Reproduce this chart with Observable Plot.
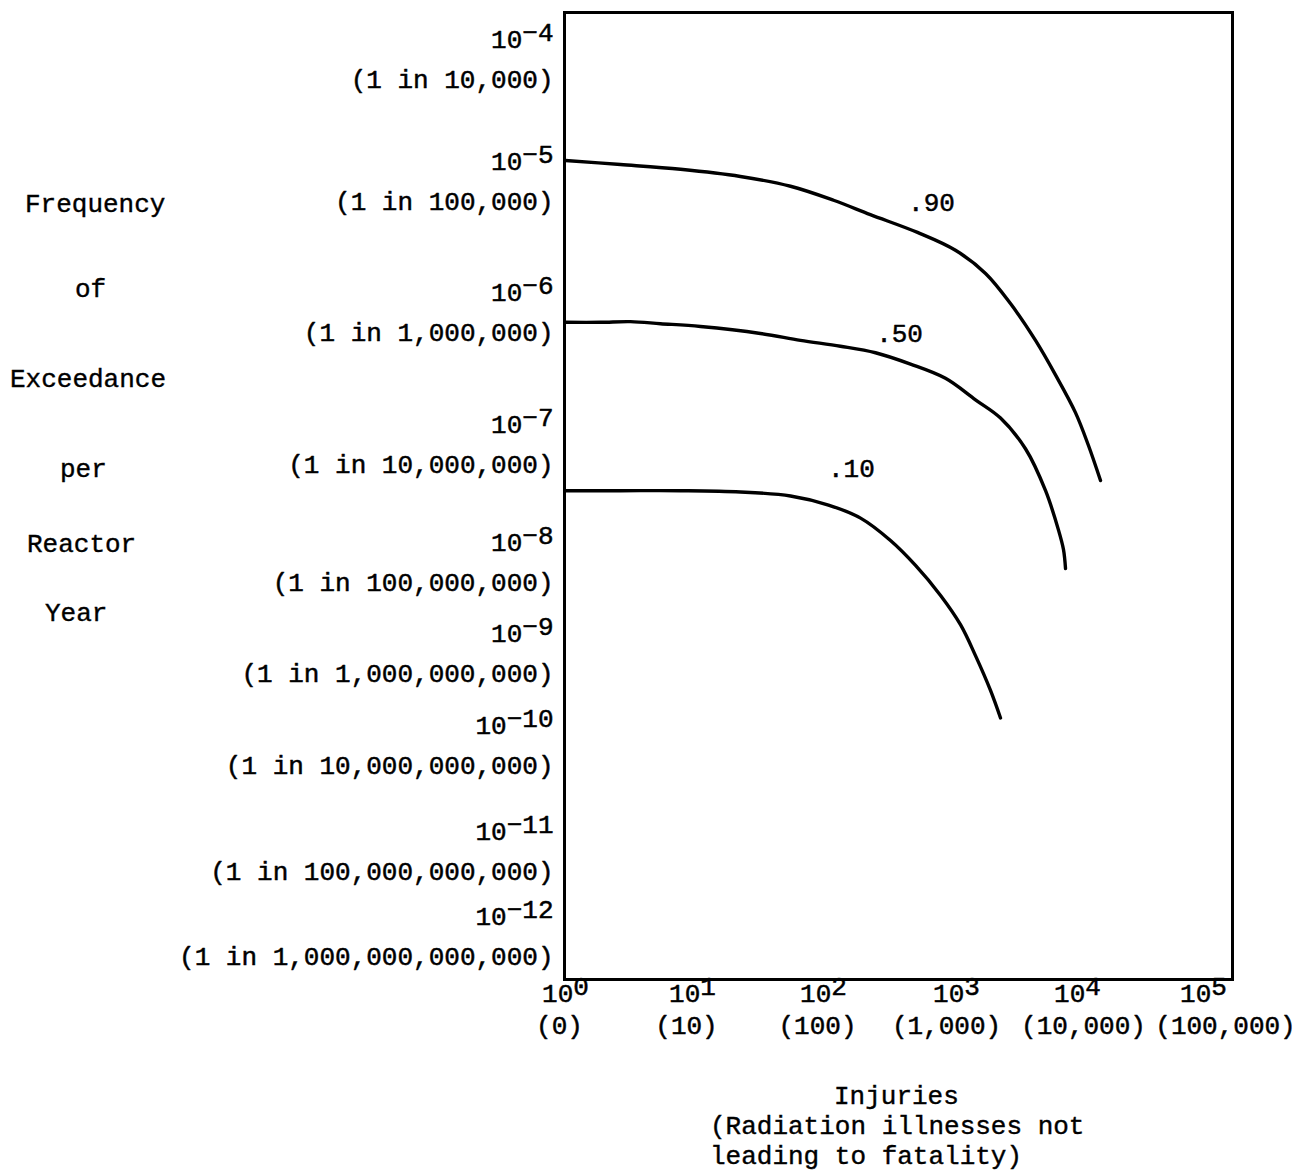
<!DOCTYPE html>
<html><head><meta charset="utf-8">
<script src="https://cdn.jsdelivr.net/npm/d3@7"></script>
<script src="https://cdn.jsdelivr.net/npm/@observablehq/plot@0.6"></script>
<style>
body{margin:0;background:#fff;}
#wrap{position:relative;width:1308px;height:1173px;font-family:"Liberation Mono",monospace;font-size:26px;color:#000;overflow:hidden;}
.w{position:absolute;line-height:1;white-space:pre;-webkit-text-stroke:0.4px #000;}
</style></head><body><div id="wrap">
<div class="w" style="left:25px;top:192px">Frequency</div>
<div class="w" style="left:75px;top:277px">of</div>
<div class="w" style="left:10px;top:367px">Exceedance</div>
<div class="w" style="left:60px;top:457px">per</div>
<div class="w" style="left:27px;top:532px">Reactor</div>
<div class="w" style="left:45px;top:601px">Year</div>
<div class="w" style="left:834px;top:1084px">Injuries</div>
<div class="w" style="left:710px;top:1114px">(Radiation illnesses not</div>
<div class="w" style="left:710px;top:1144px">leading to fatality)</div>
</div>
<script>
// y axis: decades of frequency and their "1 in N" readings
const yExponents = [-4, -5, -6, -7, -8, -9, -10, -11, -12];
const yTickLabels = ["(1 in 10,000)", "(1 in 100,000)", "(1 in 1,000,000)", "(1 in 10,000,000)",
  "(1 in 100,000,000)", "(1 in 1,000,000,000)", "(1 in 10,000,000,000)",
  "(1 in 100,000,000,000)", "(1 in 1,000,000,000,000)"];
// x axis: decades of injuries
const xExponents = [0, 1, 2, 3, 4, 5];
const xTickLabels = ["(0)", "(10)", "(100)", "(1,000)", "(10,000)", "(100,000)"];

// curves (injuries, frequency of exceedance per reactor year)
const injuries90 = [1, 2.71, 8.05, 23.2, 56, 119, 225, 509, 982, 1738, 2793, 4498, 6577, 9620, 12220, 15230];
const freq90 = [1.49e-5, 1.38e-5, 1.26e-5, 1.10e-5, 9.2e-6, 7.2e-6, 5.6e-6, 4.1e-6, 3.0e-6, 2.0e-6, 1.18e-6, 6.2e-7, 3.4e-7, 1.76e-7, 9.9e-8, 5.0e-8];
const injuries50 = [1, 1.89, 3.25, 5.6, 11.5, 33, 66.7, 134, 246, 451, 826, 1435, 2311, 3716, 5445, 6967, 7658, 7962];
const freq50 = [8.5e-7, 8.5e-7, 8.6e-7, 8.3e-7, 7.9e-7, 7.0e-7, 6.2e-7, 5.6e-7, 5.0e-7, 4.1e-7, 3.2e-7, 2.2e-7, 1.6e-7, 9.3e-8, 4.1e-8, 1.9e-8, 1.3e-8, 8.7e-9];
const injuries10 = [1, 2.71, 8.05, 23.2, 56, 109, 190, 319, 492, 759, 1079, 1435, 1910, 2311];
const freq10 = [4.1e-8, 4.1e-8, 4.1e-8, 4.0e-8, 3.7e-8, 3.1e-8, 2.4e-8, 1.55e-8, 9.4e-9, 4.4e-9, 2.1e-9, 9.6e-10, 4.0e-10, 2.0e-10];

const curveNames = [".90", ".50", ".10"];
const labelInjuries = [649, 373, 162];
const labelFreq = [6.9e-6, 7.0e-7, 6.3e-8];

const series = [
  ...injuries90.map((x, i) => ({x, y: freq90[i], s: ".90"})),
  ...injuries50.map((x, i) => ({x, y: freq50[i], s: ".50"})),
  ...injuries10.map((x, i) => ({x, y: freq10[i], s: ".10"}))
];
const curveLabels = curveNames.map((t, i) => ({t, x: labelInjuries[i], y: labelFreq[i]}));
const yTicks = yExponents.map((e, i) => ({v: Math.pow(10, e), sup: "\u2212" + Math.abs(e), paren: yTickLabels[i]}));
const xTicks = xExponents.map((e, i) => ({v: Math.pow(10, e), sup: String(e), paren: xTickLabels[i]}));

const txt = {fontSize: 26, fill: "black", stroke: "black", strokeWidth: 0.5};
// horizontal nudges of the typed "(n)" labels, as in the original typescript
const parenShift = [-6, -6, -6, -10, 6, 22];

const chart = Plot.plot({
  width: 1308, height: 1060,
  marginLeft: 564, marginRight: 76, marginTop: 12, marginBottom: 81,
  style: {fontFamily: "Liberation Mono, monospace", fontSize: "26px", background: "white", color: "black"},
  x: {type: "log", domain: xTicks.map(d => d.v), range: [565, 692, 823, 956, 1077, 1203], axis: null},
  y: {type: "log", domain: yTicks.map(d => d.v), range: [59.5, 181, 312.5, 444.5, 562.5, 653.5, 745, 851.5, 936], axis: null},
  marks: [
    Plot.frame({stroke: "black", strokeWidth: 3}),
    Plot.line(series, {x: "x", y: "y", z: "s", curve: "catmull-rom", stroke: "black", strokeWidth: 3.4}),
    Plot.text(curveLabels, {x: "x", y: "y", text: "t", ...txt}),
    Plot.text(yTicks, {y: "v", frameAnchor: "left", dx: -11, dy: -20, textAnchor: "end", text: d => "10^" + d.sup, ...txt}),
    Plot.text(yTicks, {y: "v", frameAnchor: "left", dx: -11, dy: 20, textAnchor: "end", text: "paren", ...txt}),
    Plot.text(xTicks, {x: "v", frameAnchor: "bottom", dy: 22, textAnchor: "middle", text: d => "10^" + d.sup, ...txt}),
    ...xTicks.map((d, i) => Plot.text([d], {x: "v", frameAnchor: "bottom", dy: 54, dx: parenShift[i], textAnchor: "middle", text: "paren", ...txt}))
  ]
});
// render "10^n" as 10 with a raised exponent
chart.querySelectorAll("text").forEach(t => {
  const m = /^10\^(.+)$/.exec(t.textContent);
  if (m && t.children.length === 0) {
    t.textContent = "10";
    const ts = document.createElementNS("http://www.w3.org/2000/svg", "tspan");
    ts.setAttribute("dy", "-7");
    ts.textContent = m[1];
    t.appendChild(ts);
  }
});
chart.style.position = "absolute";
chart.style.left = "0px";
chart.style.top = "0px";
document.getElementById("wrap").prepend(chart);
</script>
</body></html>
